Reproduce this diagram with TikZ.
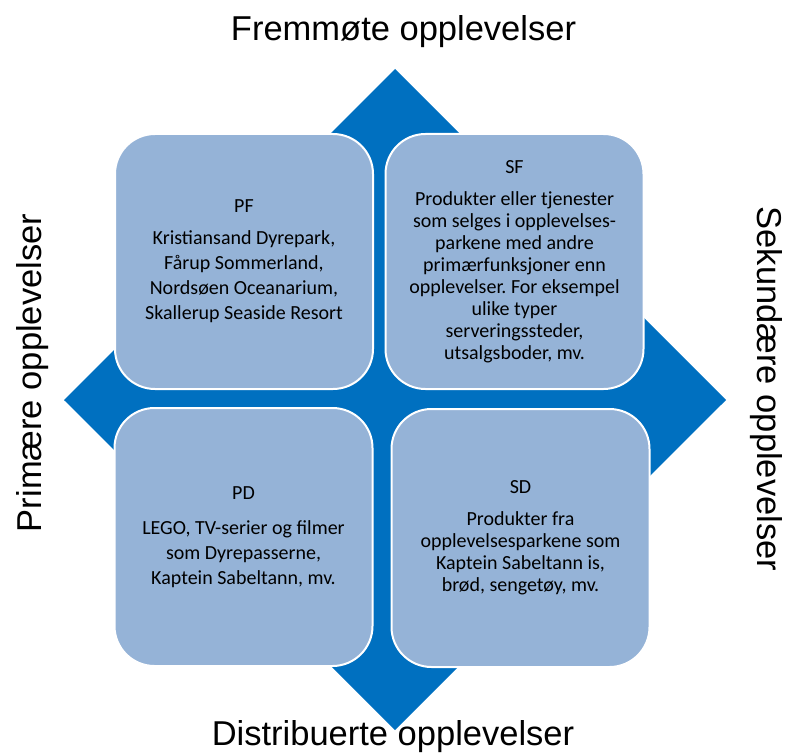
\documentclass[tikz,border=0pt]{standalone}
\usepackage{fontspec}
\setmainfont{Carlito}
\newfontfamily\arialfont{Liberation Sans}
\frenchspacing
\definecolor{dblue}{HTML}{0070C0}
\definecolor{lblue}{HTML}{95B3D7}
\tikzset{
  quad/.style={draw=white, line width=2bp, fill=lblue, rounded corners=40bp,
    minimum width=258bp, minimum height=255bp, inner sep=0pt, align=center,
    font=\fontsize{20bp}{25bp}\selectfont},
  tight/.style={font=\fontsize{20bp}{22bp}\selectfont},
  axislabel/.style={font=\arialfont\fontsize{34.5bp}{40bp}\selectfont, inner sep=0pt}
}
\begin{document}
\begin{tikzpicture}[x=1bp,y=-1bp]
\useasboundingbox (0,0) rectangle (792,753);
% diamond
\fill[dblue] (395,69) -- (726,400) -- (395,730) -- (64,400) -- cycle;
% quadrants
\node[quad] (pf) at (244,261.5) {\raisebox{-3bp}{PF}\\[10bp]Kristiansand Dyrepark,\\Fårup Sommerland,\\Nordsøen Oceanarium,\\Skallerup Seaside Resort};
\node[quad, tight] (sf) at (514.5,261.5) {SF\\[10bp]Produkter eller tjenester\\som selges i opplevelses-\\parkene med andre\\primærfunksjoner enn\\opplevelser. For eksempel\\ulike typer\\serveringssteder,\\utsalgsboder, mv.};
\node[quad, minimum height=258bp] (pd) at (243.5,537) {PD\\[10bp]LEGO, TV-serier og filmer\\som Dyrepasserne,\\Kaptein Sabeltann, mv.};
\node[quad, tight, minimum height=258bp] (sd) at (520.5,538) {SD\\[10bp]Produkter fra\\opplevelsesparkene som\\Kaptein Sabeltann is,\\brød, sengetøy, mv.};
% axis labels
\node[axislabel, anchor=base] (top) at (403.5,41) {Fremmøte opplevelser};
\node[axislabel, anchor=base] (bottom) at (393,745) {Distribuerte opplevelser};
\node[axislabel, anchor=base, rotate=90] (left) at (41,373) {Primære opplevelser};
\node[axislabel, anchor=base, rotate=-90] (right) at (757,389) {Sekundære opplevelser};
\end{tikzpicture}
\end{document}
